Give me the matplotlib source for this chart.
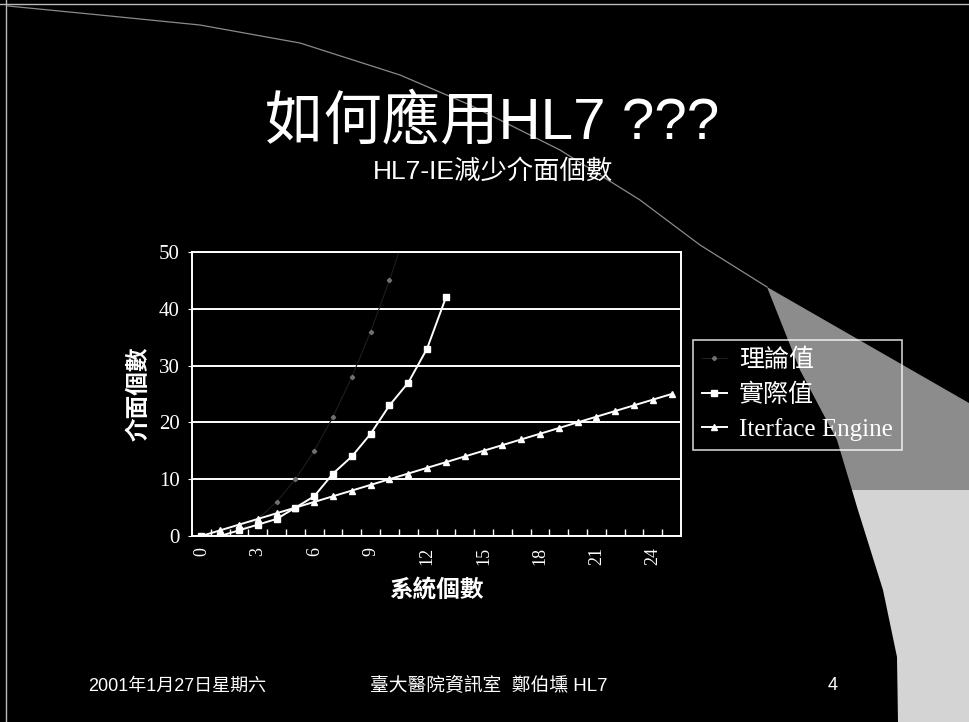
import numpy as np
import matplotlib
matplotlib.use('Agg')
import matplotlib.pyplot as plt
from matplotlib.patches import Polygon
from matplotlib.lines import Line2D

# data
systems = list(range(0, 26))
theory_x = list(range(0, 12))
theory = [0, 0, 1, 3, 6, 10, 15, 21, 28, 36, 45, 55]        # n(n-1)/2
actual_x = list(range(0, 14))
actual = [0, 0, 1, 2, 3, 5, 7, 11, 14, 18, 23, 27, 33, 42]
ie = list(range(0, 26))
xtick_vals = list(range(0, 25, 3))
ytick_vals = [0, 10, 20, 30, 40, 50]

W, H = 969, 722
CJK = ['Liberation Serif', 'Noto Sans CJK TC']
SANS = ['Liberation Sans', 'Noto Sans CJK TC']


def px(x, y):
    return x / W, 1 - y / H


fig = plt.figure(figsize=(W / 100, H / 100), dpi=100, facecolor='black')

# decorative background (swoosh on the right)
upper = [(767, 287), (969, 403), (969, 490), (852, 490), (837, 440), (800, 370)]
lower = [(852, 490), (969, 490), (969, 722), (898, 722), (897, 657), (883, 590), (857, 507)]
fig.patches.append(Polygon([px(*p) for p in upper], closed=True, transform=fig.transFigure,
                           facecolor='#8c8c8c', edgecolor='none', zorder=-2))
fig.patches.append(Polygon([px(*p) for p in lower], closed=True, transform=fig.transFigure,
                           facecolor='#d4d4d4', edgecolor='none', zorder=-2))
arc = [(8, 6), (100, 15), (200, 25), (300, 43), (400, 75), (470, 105), (560, 150), (640, 200), (700, 245), (767, 287)]
ax_, ay_ = zip(*[px(*p) for p in arc])
fig.lines.append(Line2D(ax_, ay_, transform=fig.transFigure, color='#8a8a8a', lw=0.9, zorder=-1))
# thin frame at top / left
fig.lines.append(Line2D([0, 1], [1 - 4 / H, 1 - 4 / H], transform=fig.transFigure, color='#bbbbbb', lw=1))
fig.lines.append(Line2D([6 / W, 6 / W], [0, 1], transform=fig.transFigure, color='#bbbbbb', lw=1))

ax = fig.add_axes([192 / W, 1 - 536 / H, 489 / W, 284 / H])
ax.set_facecolor('black')

ax.plot(theory_x, theory, color='#1e1e1e', lw=0.8, marker='D', ms=2.2,
        mfc='#707070', mec='#707070', label='理論值')
ax.plot(actual_x, actual, color='white', lw=1.4, marker='s', ms=5,
        mfc='white', mec='white', label='實際值')
ax.plot(systems, ie, color='white', lw=1.4, marker='^', ms=5,
        mfc='white', mec='white', label='Iterface Engine')

ax.set_xlim(-0.5, 25.5)
ax.set_ylim(0, 50)
ax.set_yticks(ytick_vals)
ax.set_xticks(xtick_vals)
ax.set_xticks(np.arange(0.5, 25.5, 1), minor=True)
ax.grid(axis='y', color='white', lw=1.4)
ax.set_axisbelow(True)
for s in ax.spines.values():
    s.set_color('white')
    s.set_linewidth(1.4)

ax.tick_params(axis='x', which='major', length=0, pad=8, labelrotation=90,
               labelcolor='white', labelsize=13)
ax.tick_params(axis='x', which='minor', length=5, direction='in', color='white', width=1)
ax.tick_params(axis='y', length=3, color='white', labelcolor='white', labelsize=15, pad=6)
for lab in ax.get_xticklabels() + ax.get_yticklabels():
    lab.set_family(CJK)

ax.set_ylabel('介面個數', color='white', fontsize=17, family=CJK, fontweight='bold', labelpad=6)
ax.set_xlabel('系統個數', color='white', fontsize=17, family=CJK, fontweight='bold', labelpad=10)

leg = ax.legend(loc='upper left', bbox_to_anchor=px(693, 340), bbox_transform=fig.transFigure,
                borderaxespad=0, frameon=True, fancybox=False, handlelength=1.0,
                prop={'family': CJK, 'size': 18}, labelcolor='white',
                borderpad=0.35, labelspacing=0.45, handletextpad=0.5)
leg.get_frame().set_facecolor('none')
leg.get_frame().set_edgecolor('white')
leg.get_frame().set_linewidth(1.2)

fig.text(*px(492, 122), '如何應用HL7 ???', color='white', fontsize=42, family=SANS,
         ha='center', va='center')
fig.text(*px(493, 172), 'HL7-IE減少介面個數', color='white', fontsize=19, family=SANS,
         ha='center', va='center')

fig.text(*px(88, 686), '2001年1月27日星期六', color='white', fontsize=13, family=SANS,
         ha='left', va='center')
fig.text(*px(370, 686), '臺大醫院資訊室  鄭伯壎 HL7', color='white', fontsize=13.5, family=SANS,
         ha='left', va='center')
fig.text(*px(833, 686), '4', color='white', fontsize=13, family=SANS, ha='center', va='center')

fig.savefig('out.png', dpi=100, facecolor='black')
